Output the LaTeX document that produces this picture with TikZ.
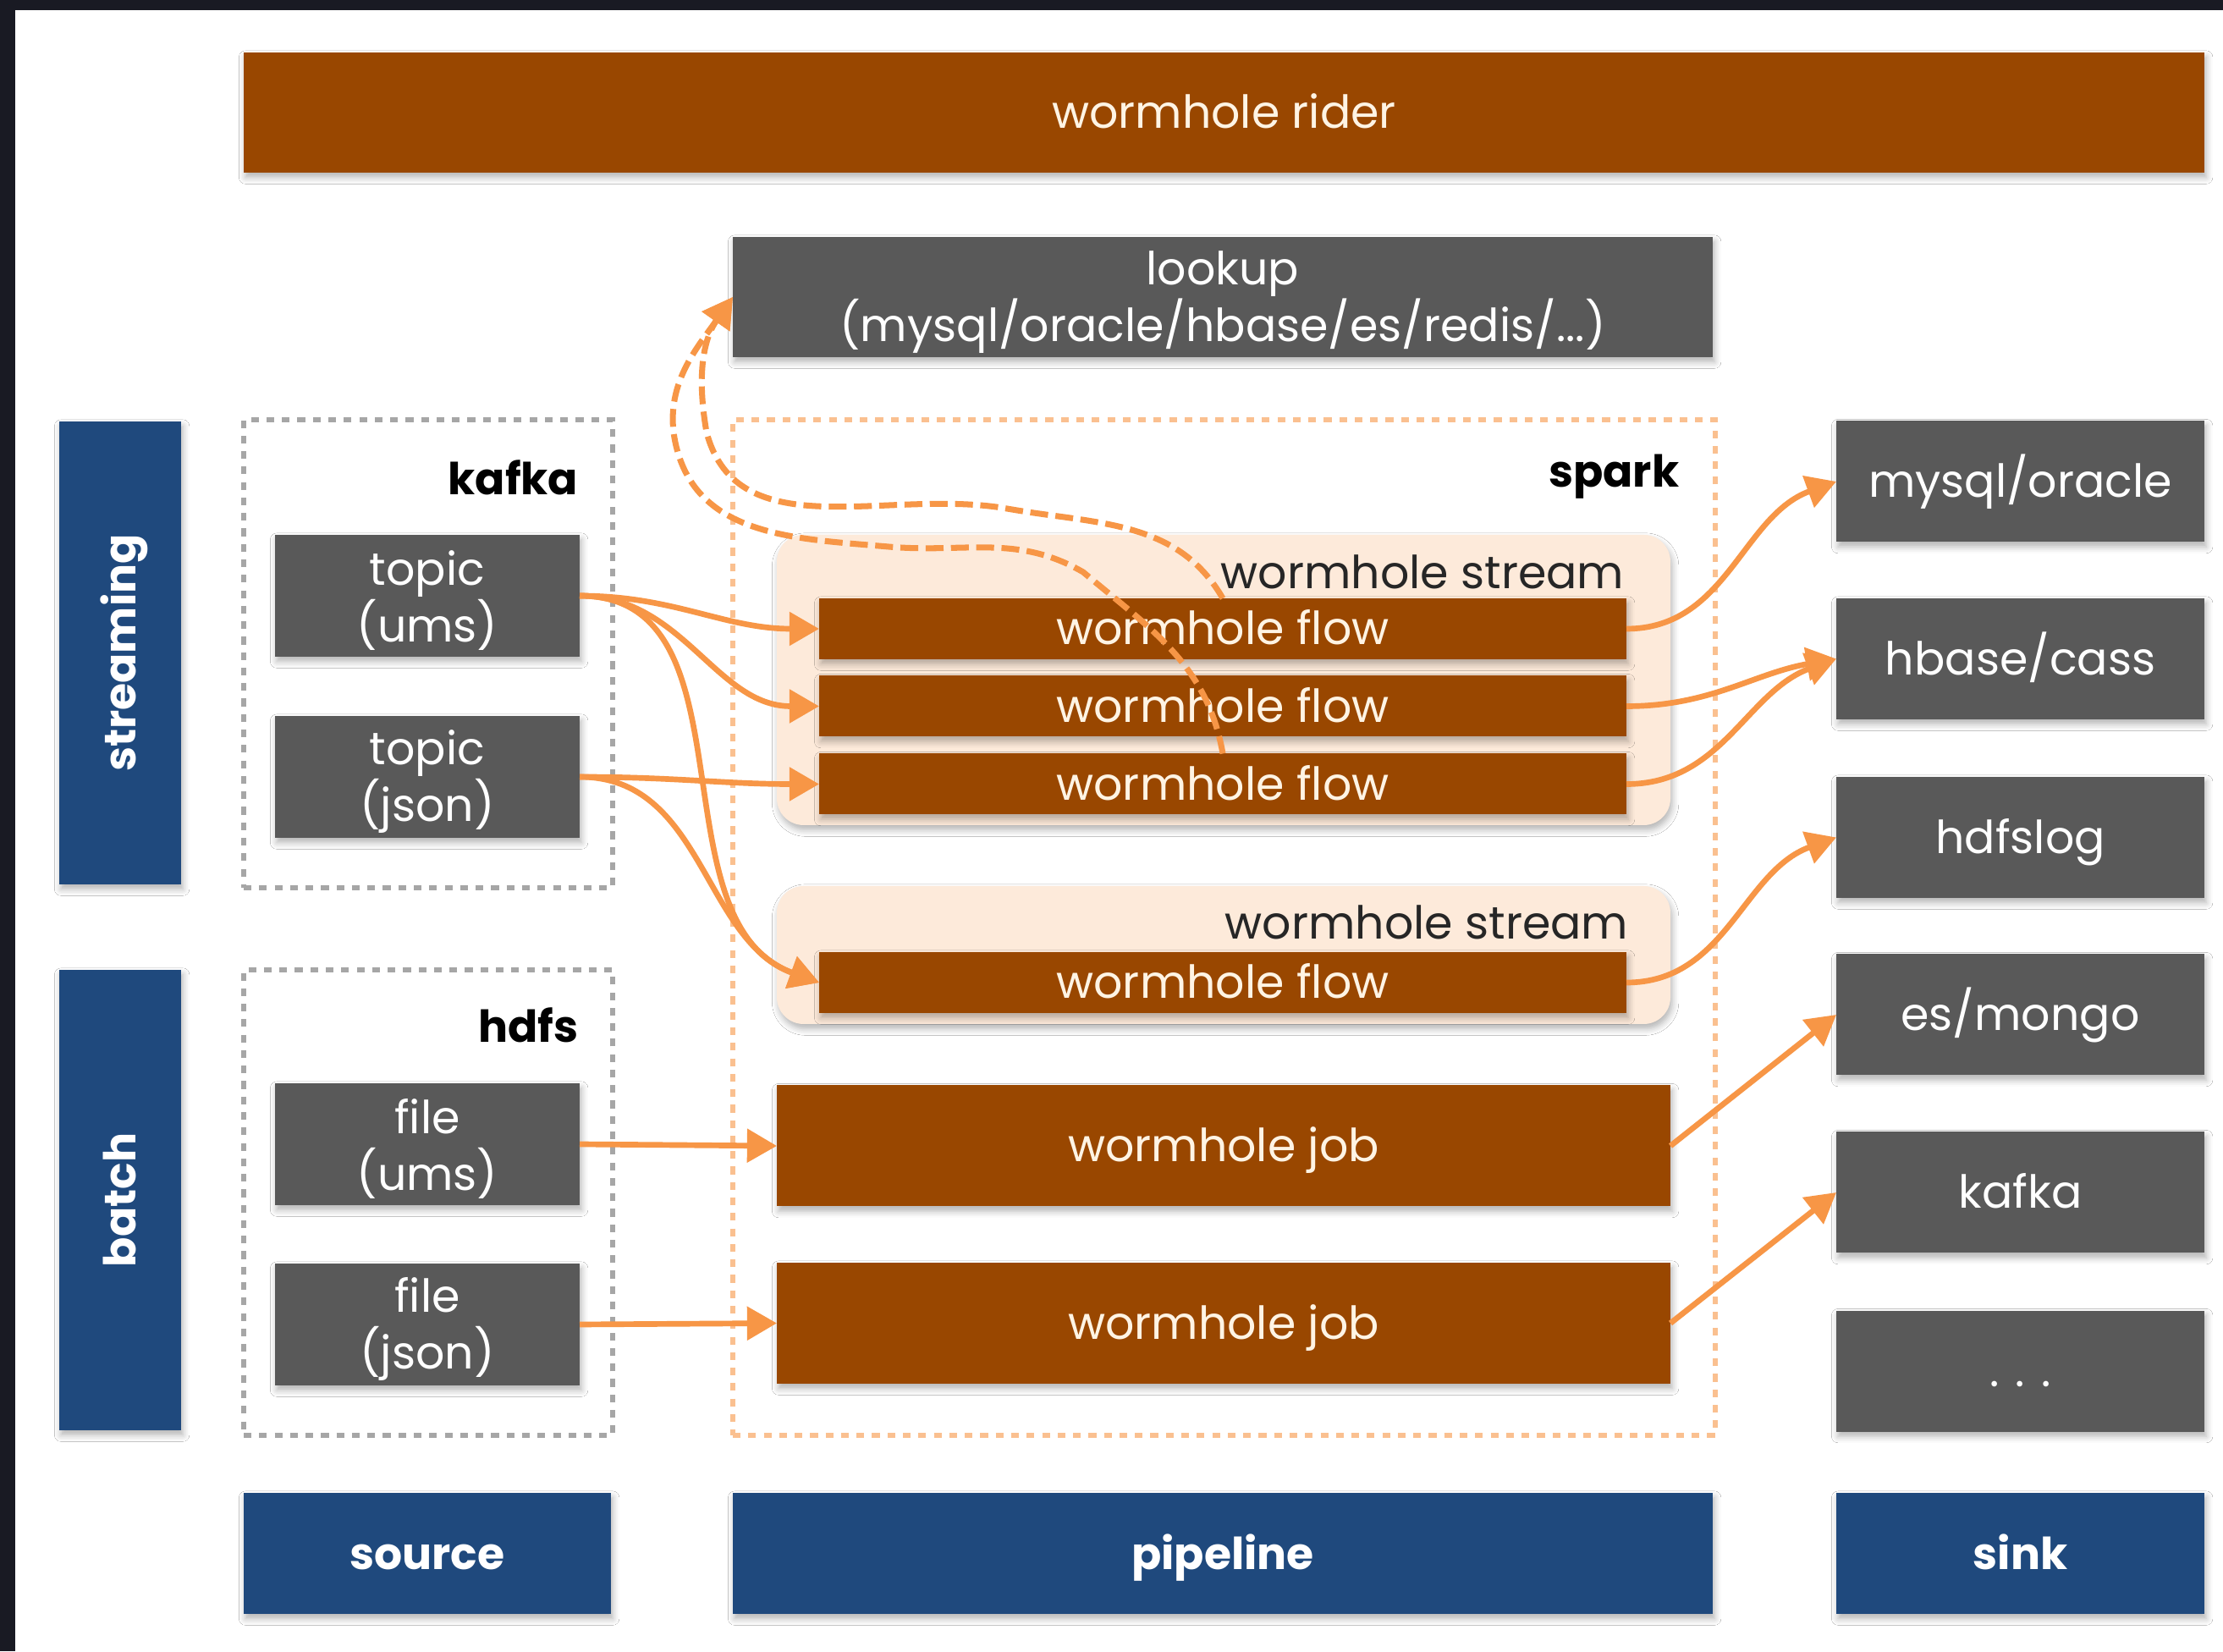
\documentclass[tikz,border=0pt]{standalone}
\usepackage{fontspec}
\setmainfont{Poppins}
\usepackage{tikz}
\usetikzlibrary{arrows.meta,shadows.blur}

\definecolor{riderbrown}{RGB}{153,71,0}
\definecolor{boxgrey}{RGB}{89,89,89}
\definecolor{tagblue}{RGB}{31,73,125}
\definecolor{streampeach}{RGB}{253,234,218}
\definecolor{linkorange}{RGB}{247,150,70}
\definecolor{dotgrey}{RGB}{166,166,166}
\definecolor{sparkdot}{RGB}{250,192,144}
\definecolor{framedark}{RGB}{25,26,35}
\definecolor{flowtext}{RGB}{255,244,228}

\newcommand{\boxstrut}{\rule{0pt}{15pt}}

\tikzset{
  base/.style={inner sep=0pt, outer sep=0pt, align=center, font=\fontsize{15.3}{19}\selectfont,
    blur shadow={shadow xshift=0.6pt, shadow yshift=-1.6pt, shadow blur steps=5, shadow opacity=30}},
  oneline/.style={text height=11.4pt, text depth=0.8pt},
  greybox/.style={base, fill=boxgrey, text=white},
  brownbox/.style={base, oneline, fill=riderbrown, text=flowtext},
  bluebox/.style={base, oneline, fill=tagblue, text=white, font=\fontsize{14.8}{18}\selectfont\bfseries},
  streambox/.style={base, fill=streampeach, rounded corners=9pt},
  dotbox/.style={inner sep=0pt, outer sep=0pt, line width=1.8pt, dash pattern=on 2.6pt off 2.6pt},
  tag/.style={inner sep=0pt, anchor=east, font=\fontsize{14.8}{18}\selectfont\bfseries},
  streamtag/.style={inner sep=0pt, anchor=east, text=black!85, font=\fontsize{15.3}{19}\selectfont},
  link/.style={draw=linkorange, line width=1.9pt, -{Triangle[length=10pt,width=11pt]}},
  lookuplink/.style={link, line width=2pt, dash pattern=on 6pt off 2.5pt},
}

\begin{document}
\begin{tikzpicture}
\useasboundingbox (0,0) rectangle (26.27,19.51);
\fill[framedark] (0,0) rectangle (26.27,19.51);
\fill[white] (0.18,0) rectangle (26.27,19.39);

% bars
\node[brownbox, minimum width=23.17cm, minimum height=1.42cm] (rider) at (14.465,18.18) {wormhole rider};
\node[greybox, minimum width=11.58cm, minimum height=1.42cm] (lookup) at (14.45,16.00) {\boxstrut lookup\\(mysql/oracle/hbase/es/redis/...)};
\node[bluebox, minimum width=4.34cm, minimum height=1.43cm] (source) at (5.05,1.155) {source};
\node[bluebox, minimum width=11.58cm, minimum height=1.43cm] (pipeline) at (14.45,1.155) {pipeline};
\node[bluebox, minimum width=4.35cm, minimum height=1.43cm] (sink) at (23.875,1.155) {sink};
\node[bluebox, rotate=90, minimum width=5.47cm, minimum height=1.44cm] (streaming) at (1.42,11.795) {streaming};
\node[bluebox, rotate=90, minimum width=5.44cm, minimum height=1.44cm] (batch) at (1.42,5.33) {batch};

% source
\node[dotbox, draw=dotgrey, minimum width=4.36cm, minimum height=5.53cm] (kafkabox) at (5.06,11.785) {};
\node[dotbox, draw=dotgrey, minimum width=4.36cm, minimum height=5.50cm] (hdfsbox) at (5.06,5.30) {};
\node[tag] (kafkatag) at (6.84,13.87) {kafka};
\node[tag] (hdfstag) at (6.84,7.40) {hdfs};
\node[greybox, minimum width=3.6cm, minimum height=1.44cm] (topicums) at (5.05,12.47) {\boxstrut topic\\(ums)};
\node[greybox, minimum width=3.6cm, minimum height=1.44cm] (topicjson) at (5.05,10.33) {\boxstrut topic\\(json)};
\node[greybox, minimum width=3.6cm, minimum height=1.44cm] (fileums) at (5.05,5.99) {\boxstrut file\\(ums)};
\node[greybox, minimum width=3.6cm, minimum height=1.44cm] (filejson) at (5.05,3.86) {\boxstrut file\\(json)};

% pipeline
\node[dotbox, draw=sparkdot, minimum width=11.61cm, minimum height=12.00cm] (sparkbox) at (14.465,8.55) {};
\node[tag] (sparktag) at (19.85,13.88) {spark};
\node[streambox, minimum width=10.56cm, minimum height=3.43cm] (stream1) at (14.46,11.475) {};
\node[streambox, minimum width=10.56cm, minimum height=1.63cm] (stream2) at (14.46,8.225) {};
\node[streamtag] (stream1tag) at (19.2,12.75) {wormhole stream};
\node[streamtag] (stream2tag) at (19.25,8.61) {wormhole stream};
\node[brownbox, minimum width=9.54cm, minimum height=0.72cm] (flow1) at (14.45,12.08) {wormhole flow};
\node[brownbox, minimum width=9.54cm, minimum height=0.72cm] (flow2) at (14.45,11.165) {wormhole flow};
\node[brownbox, minimum width=9.54cm, minimum height=0.72cm] (flow3) at (14.45,10.245) {wormhole flow};
\node[brownbox, minimum width=9.54cm, minimum height=0.72cm] (flow4) at (14.45,7.90) {wormhole flow};
\node[brownbox, minimum width=10.56cm, minimum height=1.43cm] (job1) at (14.46,5.97) {wormhole job};
\node[brownbox, minimum width=10.56cm, minimum height=1.43cm] (job2) at (14.46,3.875) {wormhole job};

% sink
\node[greybox, oneline, minimum width=4.35cm, minimum height=1.43cm] (mysql) at (23.875,13.82) {mysql/oracle};
\node[greybox, oneline, minimum width=4.35cm, minimum height=1.43cm] (hbase) at (23.875,11.725) {hbase/cass};
\node[greybox, oneline, minimum width=4.35cm, minimum height=1.43cm] (hdfslog) at (23.875,9.615) {hdfslog};
\node[greybox, oneline, minimum width=4.35cm, minimum height=1.43cm] (esmongo) at (23.875,7.52) {es/mongo};
\node[greybox, oneline, minimum width=4.35cm, minimum height=1.43cm] (kafkasink) at (23.875,5.42) {kafka};
\node[greybox, oneline, minimum width=4.35cm, minimum height=1.43cm] (moresink) at (23.875,3.31) {. . .};

% links
\draw[link] (topicums.east) to[out=0,in=180] (flow1.west);
\draw[link] (topicums.east) to[out=0,in=180] (flow2.west);
\draw[link] (topicums.east) to[out=0,in=160] (flow4.west);
\draw[link] (topicjson.east) to[out=0,in=180] (flow3.west);
\draw[link] (topicjson.east) to[out=0,in=160] (flow4.west);
\draw[link] (fileums.east) -- (job1.west);
\draw[link] (filejson.east) -- (job2.west);
\draw[link] (flow1.east) to[out=0,in=200] (mysql.west);
\draw[link] (flow2.east) to[out=0,in=190] (hbase.west);
\draw[link] (flow3.east) to[out=0,in=200] (hbase.west);
\draw[link] (flow4.east) to[out=0,in=200] (hdfslog.west);
\draw[link] (job1.east) -- (esmongo.west);
\draw[link] (job2.east) -- (kafkasink.west);

% lookups
\coordinate (bendA1) at (11.9,13.5);
\coordinate (bendA2) at (8.35,14.4);
\coordinate (bendB1) at (12.8,12.75);
\coordinate (bendB2) at (10.5,13.05);
\coordinate (bendB3) at (8.0,14.2);
\draw[lookuplink] (flow1.north) to[out=120,in=-10] (bendA1) to[out=170,in=-75] (bendA2) to[out=100,in=235] (lookup.west);
\draw[lookuplink] (flow3.north) to[out=100,in=-40] (bendB1) to[out=150,in=-5] (bendB2) to[out=175,in=-75] (bendB3) to[out=105,in=235] (lookup.west);
\end{tikzpicture}
\end{document}
